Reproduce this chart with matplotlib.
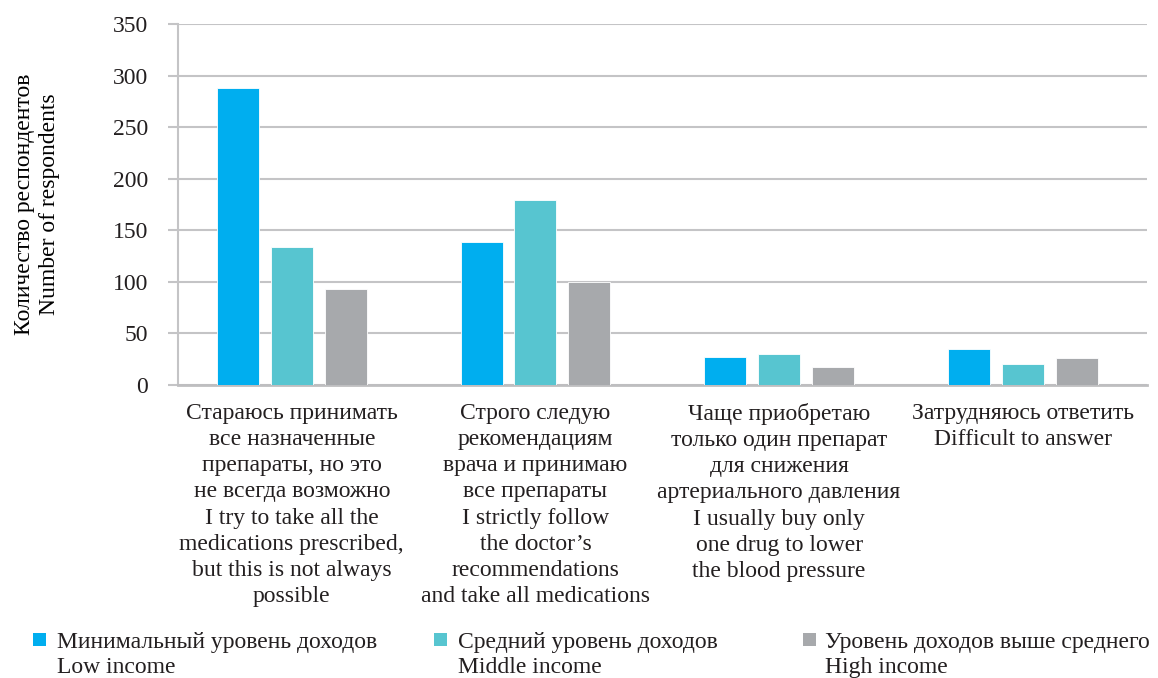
import numpy as np
import matplotlib
matplotlib.use("Agg")
import matplotlib.pyplot as plt
from matplotlib.patches import Rectangle

plt.rcParams['font.family'] = ['Liberation Serif', 'DejaVu Serif']
plt.rcParams['text.color'] = '#231F20'

categories = [
    "Стараюсь принимать\nвсе назначенные\nпрепараты, но это\nне всегда возможно\nI try to take all the\nmedications prescribed,\nbut this is not always\npossible",
    "Строго следую\nрекомендациям\nврача и принимаю\nвсе препараты\nI strictly follow\nthe doctor’s\nrecommendations\nand take all medications",
    "Чаще приобретаю\nтолько один препарат\nдля снижения\nартериального давления\nI usually buy only\none drug to lower\nthe blood pressure",
    "Затрудняюсь ответить\nDifficult to answer",
]
series_names = [
    "Минимальный уровень доходов\nLow income",
    "Средний уровень доходов\nMiddle income",
    "Уровень доходов выше среднего\nHigh income",
]
low_income = [288, 139, 27, 35]
middle_income = [134, 179, 30, 20]
high_income = [93, 100, 17, 26]

colors = ["#00AEEF", "#57C5D0", "#A7A9AC"]
W, H = 1158, 678
FS = 17

fig = plt.figure(figsize=(W/100, H/100), dpi=100)
ax = fig.add_axes([178/W, 1-385/H, (1147-178)/W, (385-24)/H])

x = np.arange(len(categories))
step = 0.221
width = 0.172
for j, vals in enumerate([low_income, middle_income, high_income]):
    ax.bar(x + (j-1)*step, vals, width, color=colors[j], edgecolor="white", linewidth=0.6, zorder=3)

ax.set_xlim(-0.467, 3.51)
ax.set_ylim(0, 350)
ax.set_yticks(range(0, 351, 50))
ax.grid(axis='y', color="#C4C4C6", linewidth=1.5, zorder=0)
for s in ['top', 'right']:
    ax.spines[s].set_visible(False)
ax.spines['left'].set_color("#C4C4C6")
ax.spines['bottom'].set_color("#BEBEC0")
ax.spines['left'].set_linewidth(1.5)
ax.spines['bottom'].set_linewidth(2)
ax.tick_params(axis='y', length=7.5, width=1.5, color="#C4C4C6", labelsize=FS, pad=14, labelcolor='#231F20')
ax.tick_params(axis='x', length=0, labelsize=FS, pad=13, labelcolor='#231F20')
ax.set_xticks(x)
ax.set_xticklabels(categories, linespacing=1.32)
ax.set_ylabel("Количество респондентов\nNumber of respondents", fontsize=FS, linespacing=1.25)
ax.yaxis.set_label_coords(-0.122, 0.5)

# legend drawn by hand: square marker aligned with the first line of each label
marker_x = [33, 434, 803]
text_x = [57, 458, 825]
for j, name in enumerate(series_names):
    fig.add_artist(Rectangle((marker_x[j]/W, 1-646/H), 13/W, 13/H, transform=fig.transFigure,
                             facecolor=colors[j], edgecolor='none'))
    for k, line in enumerate(name.split("\n")):
        fig.text(text_x[j]/W, 1-(648+25*k)/H, line, fontsize=FS, va='baseline', ha='left')

fig.savefig("out.png", dpi=100)
